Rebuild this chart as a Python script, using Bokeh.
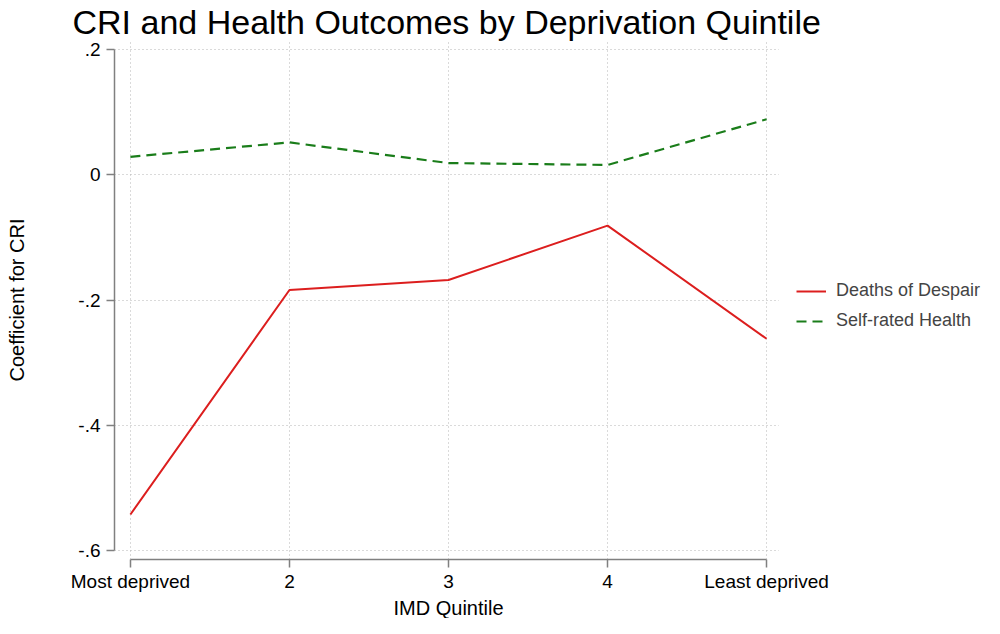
from bokeh.plotting import figure
from bokeh.models import FixedTicker, Range1d, Legend, LegendItem, BoxAnnotation, Title
from bokeh.embed import file_html
from bokeh.resources import INLINE

quintile = [1, 2, 3, 4, 5]
quintile_labels = ["Most deprived", "2", "3", "4", "Least deprived"]
deaths_of_despair = [-0.543, -0.184, -0.168, -0.081, -0.262]
self_rated_health = [0.029, 0.052, 0.019, 0.016, 0.089]
y_ticks = [-0.6, -0.4, -0.2, 0.0, 0.2]
y_tick_labels = ["-.6", "-.4", "-.2", "0", ".2"]

FONT = "Liberation Sans"
AXIS_COLOR = "#808080"
X_START, X_GRID_END, X_END = 0.9, 5.076, 6.37

p = figure(width=984, height=618, output_backend="svg", toolbar_location=None,
           x_range=Range1d(X_START, X_END), y_range=Range1d(-0.615, 0.215),
           min_border_left=114, min_border_right=0, min_border_top=37,
           min_border_bottom=47)

p.title.text = "CRI and Health Outcomes by Deprivation Quintile"
p.title.text_font = FONT
p.title.text_font_size = "34px"
p.title.text_font_style = "normal"
p.title.text_color = "black"
p.title.standoff = 0
p.title.offset = -42

p.outline_line_color = None
p.background_fill_color = "white"

r1 = p.line(quintile, deaths_of_despair, line_color="#dc1e1e", line_width=2)
r2 = p.line(quintile, self_rated_health, line_color="#1a7d1a", line_width=2.2,
            line_dash="10 6")

p.xaxis.ticker = FixedTicker(ticks=quintile)
p.xaxis.major_label_overrides = {q: lab for q, lab in zip(quintile, quintile_labels)}
p.yaxis.ticker = FixedTicker(ticks=y_ticks)
p.yaxis.major_label_overrides = {t: lab for t, lab in zip(y_ticks, y_tick_labels)}
p.xaxis.bounds = (quintile[0], quintile[-1])
p.yaxis.bounds = (y_ticks[0], y_ticks[-1])

for ax in (p.xaxis, p.yaxis):
    ax.axis_line_color = AXIS_COLOR
    ax.axis_line_width = 1.5
    ax.major_tick_line_color = AXIS_COLOR
    ax.major_tick_line_width = 1.5
    ax.major_tick_out = 8
    ax.major_tick_in = 0
    ax.minor_tick_line_color = None
    ax.major_label_text_font = FONT
    ax.major_label_text_font_size = "19px"
    ax.major_label_text_color = "black"
    ax.axis_label_text_font = FONT
    ax.axis_label_text_font_size = "20px"
    ax.axis_label_text_font_style = "normal"
    ax.axis_label_text_color = "black"

p.yaxis.axis_label = "Coefficient for CRI"
p.xaxis.major_label_standoff = 3
p.yaxis.major_label_standoff = 6
p.yaxis.major_label_orientation = "horizontal"
p.yaxis.axis_label_standoff = 47

# x-axis title, centred under the axis span (1..5) rather than the whole frame
xtitle = Title(text="IMD Quintile", align="left", offset=279,
               text_font=FONT, text_font_size="20px", text_font_style="normal",
               text_color="black", standoff=0)
p.add_layout(xtitle, "below")

for g in (p.xgrid, p.ygrid):
    g.grid_line_color = "#b4b4b4"
    g.grid_line_dash = "1 3"
    g.grid_line_width = 1

# blank the area right of the plot region (legend space)
p.add_layout(BoxAnnotation(left=X_GRID_END, fill_color="white", fill_alpha=1,
                           line_alpha=0))

legend = Legend(items=[LegendItem(label="Deaths of Despair", renderers=[r1]),
                       LegendItem(label="Self-rated Health", renderers=[r2])],
                location=(682, 228))
legend.label_text_font = FONT
legend.label_text_font_size = "18px"
legend.glyph_width = 30
legend.glyph_height = 20
legend.label_standoff = 10
legend.label_height = 20
legend.spacing = 9
legend.margin = 0
legend.padding = 2
legend.border_line_color = None
legend.background_fill_alpha = 0
p.add_layout(legend)

open("out.html", "w").write(file_html(p, INLINE))
